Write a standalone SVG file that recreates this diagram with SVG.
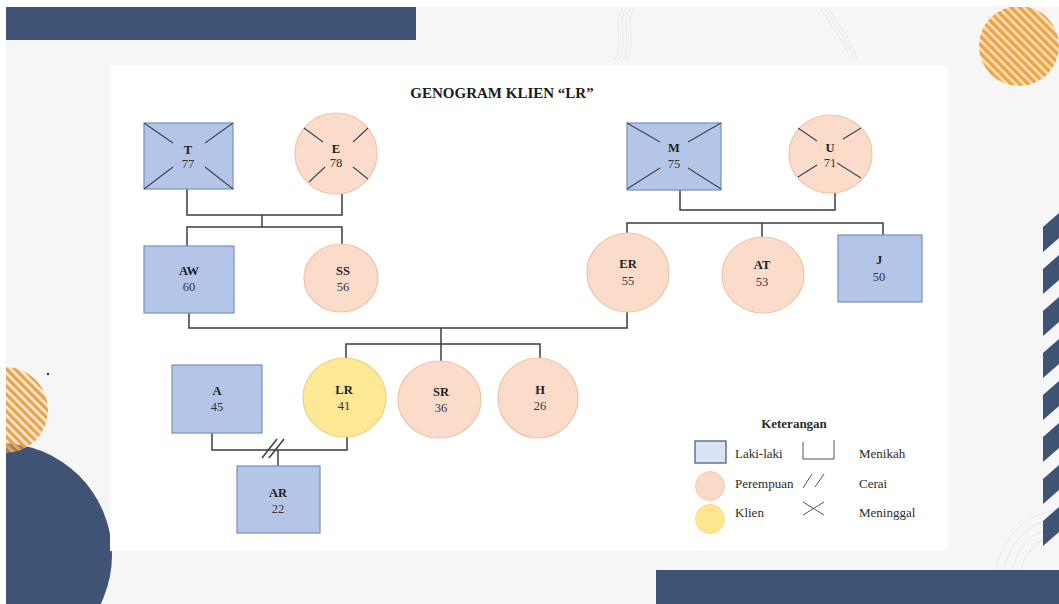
<svg xmlns="http://www.w3.org/2000/svg" width="1059" height="604" viewBox="0 0 1059 604">
  <defs>
    <pattern id="stripeOrange" patternUnits="userSpaceOnUse" width="6" height="6" patternTransform="rotate(-45)">
      <rect x="0" y="0" width="6" height="6" fill="#fbe2b6"/>
      <rect x="0" y="0" width="3.4" height="6" fill="#eea248"/>
    </pattern>
    <pattern id="stripeOrangeSoft" patternUnits="userSpaceOnUse" width="6" height="6" patternTransform="rotate(-45)">
      <rect x="0" y="0" width="6" height="6" fill="#f8d9a8" fill-opacity="0.35"/>
      <rect x="0" y="0" width="3.4" height="6" fill="#eea248"/>
    </pattern>
    <style>
      .male { fill: #b4c6e7; stroke: #7590c2; stroke-width: 1.2; }
      .female { fill: #fbdccb; stroke: #f0c3a8; stroke-width: 1.2; }
      .client { fill: #fde896; stroke: #eed27c; stroke-width: 1.2; }
      .dead { stroke: #3a4458; stroke-width: 1.1; fill: none; }
      .line { fill: none; stroke: #3d3d3d; stroke-width: 1.5; }
      .name { font-family: "Liberation Serif", "Times New Roman", serif; font-weight: bold; font-size: 12.5px; fill: #1e1e1e; text-anchor: middle; }
      .age { font-family: "Liberation Serif", "Times New Roman", serif; font-size: 12.5px; fill: #333333; text-anchor: middle; }
      .legend { font-family: "Liberation Serif", "Times New Roman", serif; font-size: 13px; fill: #2b2b2b; }
      .title { font-family: "Liberation Serif", "Times New Roman", serif; font-weight: bold; font-size: 15px; fill: #1a1a1a; text-anchor: middle; }
      .navy { fill: #3f5374; }
      .wave { fill: none; stroke: #d9d9de; stroke-width: 0.6; }
    </style>
  </defs>

  <!-- page background -->
  <rect x="0" y="0" width="1059" height="604" fill="#f6f6f7"/>

  <!-- faint wave ornaments -->
  <g id="ornaments" opacity="0.8">
    <path class="wave" d="M622,8 C612,25 625,40 615,60"/>
    <path class="wave" d="M626,8 C616,25 629,40 619,60"/>
    <path class="wave" d="M630,8 C620,25 633,40 623,60"/>
    <path class="wave" d="M634,8 C624,25 637,40 627,60"/>
    <path class="wave" d="M820,8 C830,25 840,35 850,58"/>
    <path class="wave" d="M824,8 C834,25 844,35 854,58"/>
    <path class="wave" d="M828,8 C838,25 848,35 857,58"/>
    <path class="wave" d="M1059,510 C1020,515 995,540 990,604"/>
    <path class="wave" d="M1059,518 C1025,522 1002,545 998,604"/>
    <path class="wave" d="M1059,526 C1030,530 1010,550 1006,604"/>
    <path class="wave" d="M1059,534 C1035,538 1018,555 1014,604"/>
  </g>

  <!-- decorative shapes -->
  <g id="decor">
    <rect class="navy" x="6" y="7" width="410" height="33"/>
    <rect class="navy" x="656" y="570" width="403" height="34"/>
    <circle cx="1019" cy="46" r="40" fill="url(#stripeOrange)"/>
    <circle class="navy" cx="0" cy="555" r="112"/>
    <circle cx="5" cy="410" r="43" fill="url(#stripeOrangeSoft)"/>
    <circle cx="48" cy="374" r="1.2" fill="#333"/>
    <g class="navy">
      <polygon points="1043,227 1059,213 1059,238 1043,252"/>
      <polygon points="1043,269 1059,255 1059,280 1043,294"/>
      <polygon points="1043,311 1059,297 1059,322 1043,336"/>
      <polygon points="1043,353 1059,339 1059,364 1043,378"/>
      <polygon points="1043,395 1059,381 1059,406 1043,420"/>
      <polygon points="1043,437 1059,423 1059,448 1043,462"/>
      <polygon points="1043,479 1059,465 1059,490 1043,504"/>
      <polygon points="1043,521 1059,507 1059,532 1043,546"/>
    </g>
    <!-- white outer margin -->
    <rect x="0" y="0" width="1059" height="7" fill="#ffffff"/>
    <rect x="0" y="0" width="6" height="604" fill="#ffffff"/>
  </g>

  <!-- white sheet -->
  <rect x="110" y="65" width="838" height="486" fill="#ffffff"/>

  <text class="title" x="502" y="98">GENOGRAM KLIEN “LR”</text>

  <!-- connectors -->
  <g id="connectors">
    <path class="line" d="M187,189 V215 H342 V194"/>
    <path class="line" d="M262,215 V227"/>
    <path class="line" d="M187,246 V227 H342 V244"/>
    <path class="line" d="M680,190 V210 H835 V193"/>
    <path class="line" d="M627,233 V223 H883 V235"/>
    <path class="line" d="M762,223 V237"/>
    <path class="line" d="M189,313 V328 H627 V312"/>
    <path class="line" d="M441,328 V361"/>
    <path class="line" d="M346,358 V344 H540 V358"/>
    <path class="line" d="M212,433 V450 H347 V437"/>
    <path class="line" d="M278,450 V466"/>
    <path class="line" stroke-width="1.1" d="M262,458 L277,439 M269,458 L284,439"/>
  </g>

  <!-- grandparents, father's side -->
  <g id="node-T">
    <rect class="male" x="144" y="123" width="89" height="66"/>
    <path class="dead" d="M144,123 L173,143 M233,123 L205,143 M144,189 L173,167 M233,189 L205,167"/>
    <text class="name" x="188" y="154">T</text>
    <text class="age" x="188" y="168">77</text>
  </g>
  <g id="node-E">
    <ellipse class="female" cx="336" cy="153.5" rx="41" ry="40.5"/>
    <path class="dead" d="M304,128 L323,142 M368,128 L353,142 M309,182 L325,167 M368,179 L353,167"/>
    <text class="name" x="336" y="153">E</text>
    <text class="age" x="336" y="167">78</text>
  </g>

  <!-- grandparents, mother's side -->
  <g id="node-M">
    <rect class="male" x="627" y="123" width="94" height="67"/>
    <path class="dead" d="M627,123 L660,142 M721,123 L688,142 M627,189 L660,168 M721,189 L688,168"/>
    <text class="name" x="674" y="152">M</text>
    <text class="age" x="674" y="168">75</text>
  </g>
  <g id="node-U">
    <ellipse class="female" cx="830.5" cy="154" rx="41.5" ry="39"/>
    <path class="dead" d="M798,128 L817,141 M861,128 L843,139 M798,177 L817,165 M861,178 L837,163"/>
    <text class="name" x="830" y="152">U</text>
    <text class="age" x="830" y="167">71</text>
  </g>

  <!-- parents' generation -->
  <g id="node-AW">
    <rect class="male" x="144" y="246" width="90" height="67"/>
    <text class="name" x="189" y="275">AW</text>
    <text class="age" x="189" y="291">60</text>
  </g>
  <g id="node-SS">
    <ellipse class="female" cx="341" cy="278" rx="37" ry="34"/>
    <text class="name" x="343" y="275">SS</text>
    <text class="age" x="343" y="291">56</text>
  </g>
  <g id="node-ER">
    <ellipse class="female" cx="628" cy="272.5" rx="41" ry="39.5"/>
    <text class="name" x="628" y="268">ER</text>
    <text class="age" x="628" y="285">55</text>
  </g>
  <g id="node-AT">
    <ellipse class="female" cx="763" cy="275" rx="41" ry="38"/>
    <text class="name" x="762" y="269">AT</text>
    <text class="age" x="762" y="286">53</text>
  </g>
  <g id="node-J">
    <rect class="male" x="838" y="235" width="84" height="67"/>
    <text class="name" x="879" y="264">J</text>
    <text class="age" x="879" y="281">50</text>
  </g>

  <!-- client's generation -->
  <g id="node-A">
    <rect class="male" x="172" y="365" width="90" height="68"/>
    <text class="name" x="217" y="395">A</text>
    <text class="age" x="217" y="411">45</text>
  </g>
  <g id="node-LR">
    <ellipse class="client" cx="344.5" cy="397.5" rx="41.5" ry="39.5"/>
    <text class="name" x="344" y="394">LR</text>
    <text class="age" x="344" y="410">41</text>
  </g>
  <g id="node-SR">
    <ellipse class="female" cx="439.5" cy="399.5" rx="41.5" ry="38.5"/>
    <text class="name" x="441" y="396">SR</text>
    <text class="age" x="441" y="412">36</text>
  </g>
  <g id="node-H">
    <ellipse class="female" cx="538" cy="398" rx="40" ry="40"/>
    <text class="name" x="540" y="394">H</text>
    <text class="age" x="540" y="410">26</text>
  </g>

  <!-- grandchild -->
  <g id="node-AR">
    <rect class="male" x="237" y="466" width="83" height="67"/>
    <text class="name" x="278" y="497">AR</text>
    <text class="age" x="278" y="513">22</text>
  </g>

  <!-- key -->
  <g id="legend">
    <text class="legend" x="794" y="428" font-weight="bold" text-anchor="middle">Keterangan</text>
    <rect x="695" y="441" width="31" height="22" fill="#dae3f3" stroke="#4d6187" stroke-width="1.3"/>
    <text class="legend" x="735" y="458">Laki-laki</text>
    <circle cx="710" cy="486" r="14.5" fill="#fad9c8" stroke="#f3cbb5" stroke-width="1"/>
    <text class="legend" x="735" y="488">Perempuan</text>
    <circle cx="710" cy="519" r="14.5" fill="#fde68f" stroke="#f6dc8a" stroke-width="1"/>
    <text class="legend" x="735" y="517">Klien</text>
    <path d="M803,442 V459 H834 V440" fill="none" stroke="#555" stroke-width="1"/>
    <text class="legend" x="859" y="458">Menikah</text>
    <path d="M803,488 L812,474 M815,487 L824,474" fill="none" stroke="#555" stroke-width="1"/>
    <text class="legend" x="859" y="488">Cerai</text>
    <path d="M803,502 L824,515 M803,515 L824,502" fill="none" stroke="#555" stroke-width="1"/>
    <text class="legend" x="859" y="517">Meninggal</text>
  </g>
</svg>
